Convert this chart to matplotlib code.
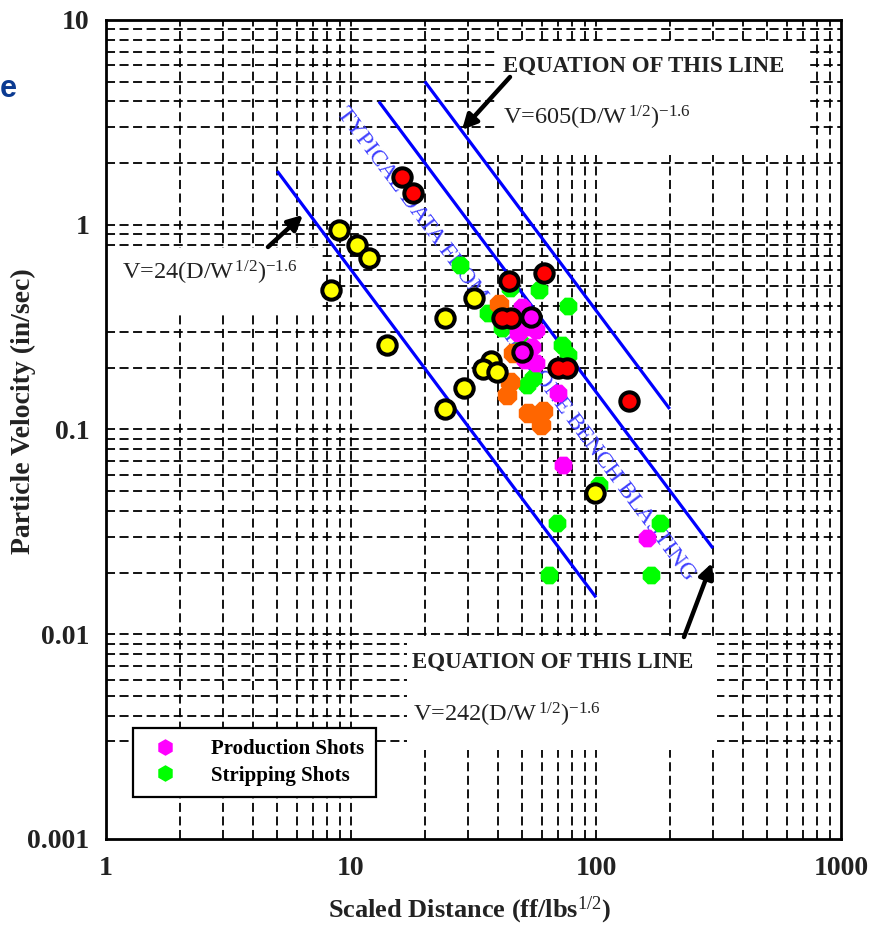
import numpy as np
import matplotlib
matplotlib.use('Agg')
import matplotlib.pyplot as plt
from matplotlib.patches import Rectangle
from matplotlib.lines import Line2D

plt.rcParams['font.family'] = ['Liberation Serif', 'DejaVu Serif']
plt.rcParams['mathtext.fontset'] = 'custom'
plt.rcParams['mathtext.rm'] = 'Liberation Serif'
plt.rcParams['mathtext.it'] = 'Liberation Serif:italic'
plt.rcParams['mathtext.bf'] = 'Liberation Serif:bold'

# ---------------- data ----------------
yellow_d = [8.9, 10.6, 11.8, 8.3, 31.9, 24.3, 14.0, 37.3, 34.5, 39.4, 28.9, 24.3, 98.8]
yellow_v = [0.94, 0.80, 0.69, 0.48, 0.44, 0.35, 0.26, 0.215, 0.197, 0.190, 0.159, 0.126, 0.049]

red_d = [16.2, 17.9, 44.2, 61.5, 41.3, 44.9, 69.9, 76.0, 137.0]
red_v = [1.71, 1.43, 0.53, 0.58, 0.35, 0.35, 0.20, 0.20, 0.137]

prod_edge_d = [54.1, 50.1]
prod_edge_v = [0.356, 0.240]

prod_d = [49.7, 53.0, 48.2, 57.1, 54.6, 57.1, 51.2, 70.2, 73.1, 161.0]
prod_v = [0.398, 0.318, 0.296, 0.306, 0.254, 0.211, 0.218, 0.151, 0.067, 0.0294]

strip_d = [27.9, 44.4, 58.6, 77.1, 36.1, 41.2, 72.4, 77.1, 50.5, 55.5, 52.1, 103.0, 69.5, 182.0, 64.5, 167.0]
strip_v = [0.636, 0.49, 0.48, 0.40, 0.37, 0.312, 0.259, 0.231, 0.259, 0.178, 0.165, 0.0536, 0.0348, 0.0348, 0.0195, 0.0195]

orange_d = [40.3, 46.0, 44.6, 43.2, 53.0, 61.0, 59.4]
orange_v = [0.41, 0.236, 0.171, 0.148, 0.120, 0.123, 0.105]

# blue reference lines V = K * D^-1.6
line_k = [24, 242, 605]
line_dmin = [5, 13, 20]
line_dmax = [100, 300, 200]
exponent = -1.6

legend_labels = ['Production Shots', 'Stripping Shots']
x_ticks = [1, 10, 100, 1000]
x_tick_labels = ['1', '10', '100', '1000']
y_ticks = [0.001, 0.01, 0.1, 1, 10]
y_tick_labels = ['0.001', '0.01', '0.1', '1', '10']

# ---------------- figure ----------------
fig = plt.figure(figsize=(8.73, 9.25), dpi=100)
ax = fig.add_axes([0.1214, 0.0930, 0.8419, 0.8854])
ax.set_xscale('log')
ax.set_yscale('log')
ax.set_xlim(1, 1000)
ax.set_ylim(0.001, 10)

dash = (0, (5, 2.5))
# grid lines (vertical full height, horizontal only down to 0.003)
xg = [k * 10.0 ** n for n in range(0, 3) for k in range(1, 10)]
xg = [x for x in xg if 1 < x < 1000]
yg = [k * 10.0 ** n for n in range(-3, 1) for k in range(1, 10)]
yg = [y for y in yg if 0.0029 < y < 10]
ax.vlines(xg, 0.001, 10, colors='black', linewidth=1.3, linestyles=dash, zorder=0.5)
ax.hlines(yg, 1, 1000, colors='black', linewidth=1.3, linestyles=dash, zorder=0.5)

# white boxes behind annotations
for (x0, y0, w, h) in [(0.0, 0.6435, 0.291, 0.078),
                       (0.532, 0.835, 0.426, 0.136),
                       (0.4095, 0.1087, 0.4215, 0.136)]:
    ax.add_patch(Rectangle((x0, y0), w, h, transform=ax.transAxes,
                           facecolor='white', edgecolor='none', zorder=1))

# blue lines
for k, d0, d1 in zip(line_k, line_dmin, line_dmax):
    d = np.array([d0, d1], dtype=float)
    ax.plot(d, k * d ** exponent, color='#0000ff', linewidth=2.3, zorder=2,
            solid_capstyle='butt')

# rotated label along the data band
p1 = ax.transData.transform((line_dmin[0], line_k[0] * line_dmin[0] ** exponent))
p2 = ax.transData.transform((line_dmax[0], line_k[0] * line_dmax[0] ** exponent))
ang = np.degrees(np.arctan2(p2[1] - p1[1], p2[0] - p1[0]))
ax.text(47.1, 0.262, 'TYPICAL DATA FROM LIMESTONE BENCH BLASTING',
        rotation=ang, rotation_mode='anchor', ha='center', va='center',
        color='#4040ff', fontsize=17, zorder=2.2)

# scatter points
s_edge = 175
lw_edge = 2.9
ax.scatter(strip_d, strip_v, s=190, marker='8', color='#00ff00', linewidths=0, zorder=3)
ax.scatter(orange_d, orange_v, s=230, marker='8', color='#ff6600', linewidths=0, zorder=3.1)
ax.scatter(prod_d, prod_v, s=190, marker='8', color='#ff00ff', linewidths=0, zorder=3.2)
ax.scatter(prod_edge_d, prod_edge_v, s=s_edge, marker='o', facecolor='#ff00ff',
           edgecolor='black', linewidths=lw_edge, zorder=3.4)
ax.scatter(red_d, red_v, s=(np.sqrt(s_edge) + lw_edge) ** 2, marker='o', color='black',
           linewidths=0, zorder=3.5)
ax.scatter(red_d, red_v, s=(np.sqrt(s_edge) - lw_edge) ** 2, marker='o', color='#ff0000',
           linewidths=0, zorder=3.6)
ax.scatter(yellow_d, yellow_v, s=s_edge, marker='o', facecolor='#ffff00',
           edgecolor='black', linewidths=lw_edge, zorder=3.7)

# annotation texts
ax.text(0.540, 0.9365, 'EQUATION OF THIS LINE', transform=ax.transAxes,
        fontsize=16.5, fontweight='bold', color='#222222', va='baseline', zorder=4)
ax.text(0.540, 0.872, r'V=605(D/W$^{\,1/2}$)$^{-1.6}$', transform=ax.transAxes,
        fontsize=17.5, color='#222222', va='baseline', zorder=4)
ax.text(0.022, 0.6825, r'V=24(D/W$^{\,1/2}$)$^{-1.6}$', transform=ax.transAxes,
        fontsize=17.5, color='#222222', va='baseline', zorder=4)
ax.text(0.416, 0.2088, 'EQUATION OF THIS LINE', transform=ax.transAxes,
        fontsize=16.5, fontweight='bold', color='#222222', va='baseline', zorder=4)
ax.text(0.418, 0.1429, r'V=242(D/W$^{\,1/2}$)$^{-1.6}$', transform=ax.transAxes,
        fontsize=17.5, color='#222222', va='baseline', zorder=4)

# arrows
arrowprops = dict(arrowstyle='-|>', color='black', lw=3.2, mutation_scale=22,
                  shrinkA=0, shrinkB=0)
for tail, head in [((0.2204, 0.7228), (0.268, 0.7619)),
                   ((0.5497, 0.9304), (0.4844, 0.8657)),
                   ((0.7864, 0.2466), (0.8245, 0.337))]:
    ax.annotate('', xy=head, xytext=tail, xycoords='axes fraction',
                textcoords='axes fraction', arrowprops=arrowprops, zorder=5)

# legend
handles = [Line2D([], [], linestyle='none', marker='h', markersize=12,
                  markerfacecolor='#ff00ff', markeredgewidth=0),
           Line2D([], [], linestyle='none', marker='h', markersize=12,
                  markerfacecolor='#00ff00', markeredgewidth=0)]
leg = ax.legend(handles, legend_labels, loc='lower left',
                bbox_to_anchor=(0.037, 0.051), frameon=True, fancybox=False,
                shadow=False, edgecolor='black', framealpha=1,
                prop={'family': 'Liberation Serif', 'weight': 'bold', 'size': 15},
                handletextpad=1.2, borderpad=0.55, labelspacing=0.3,
                handlelength=2.0, borderaxespad=0)
leg.get_frame().set_linewidth(1.6)
leg.set_zorder(6)

# axes styling
for sp in ax.spines.values():
    sp.set_linewidth(2.0)
    sp.set_zorder(7)
ax.set_xticks(x_ticks)
ax.set_xticklabels(x_tick_labels)
ax.set_yticks(y_ticks)
ax.set_yticklabels(y_tick_labels)
ax.minorticks_off()
ax.tick_params(axis='both', which='major', length=0, pad=12, labelsize=20)
for lab in ax.get_xticklabels() + ax.get_yticklabels():
    lab.set_fontweight('bold')
    lab.set_color('#222222')

ax.set_xlabel(r'Scaled Distance (ff/lbs$^{1/2}$)', fontsize=19, fontweight='bold',
              color='#222222')
ax.xaxis.set_label_coords(0.495, -0.068)
ax.set_ylabel('Particle Velocity (in/sec)', fontsize=20, fontweight='bold',
              color='#222222')
ax.yaxis.set_label_coords(-0.095, 0.5226)

fig.text(0.0, 1 - 89 / 925, 'e', fontsize=22, fontweight='bold',
         family='Liberation Sans', color='#0b3a91', va='center', ha='left')

fig.savefig('out.png', dpi=100)
